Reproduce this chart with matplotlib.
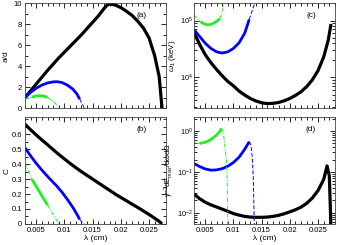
import matplotlib.pyplot as plt
import numpy as np
from matplotlib.ticker import MultipleLocator, LogLocator, NullFormatter

plt.rcParams['font.family'] = ['Liberation Sans', 'DejaVu Sans']
plt.rcParams['font.size'] = 5.5
plt.rcParams['mathtext.fontset'] = 'custom'
plt.rcParams['mathtext.rm'] = 'Liberation Sans'
plt.rcParams['mathtext.it'] = 'Liberation Sans:italic'

# ---- black curve (whole range) ----
lam_k = [0.003, 0.004, 0.005, 0.006, 0.007, 0.008, 0.009, 0.010, 0.011, 0.012, 0.013,
         0.014, 0.015, 0.016, 0.017, 0.0175, 0.018, 0.019, 0.020, 0.021, 0.022, 0.023,
         0.024, 0.025, 0.026, 0.0268, 0.0273]
ad_k = [1.0, 1.65, 2.3, 2.95, 3.6, 4.2, 4.8, 5.35, 5.9, 6.45, 7.0,
        7.6, 8.2, 8.8, 9.5, 9.8, 9.95, 9.85, 9.6, 9.25, 8.85, 8.3,
        7.65, 6.7, 5.0, 3.0, 0.0]
lam_kb = [0.003, 0.004, 0.005, 0.006, 0.007, 0.008, 0.009, 0.010, 0.011, 0.012, 0.013,
          0.014, 0.015, 0.016, 0.017, 0.018, 0.019, 0.020, 0.021, 0.022, 0.023, 0.024,
          0.025, 0.026, 0.0268, 0.0273]
c_k = [0.667, 0.63, 0.595, 0.562, 0.53, 0.497, 0.465, 0.435, 0.405, 0.377, 0.35,
       0.325, 0.30, 0.275, 0.25, 0.225, 0.20, 0.177, 0.155, 0.132, 0.11, 0.087,
       0.063, 0.038, 0.017, 0.0]
w_k = [61700, 38000, 25100, 18200, 13800, 10700, 8500, 7100, 5750, 4900, 4270,
       3850, 3590, 3470, 3510, 3630, 3890, 4270, 4840, 5620, 6920, 9120,
       13200, 22900, 44700, 87100]

lam_kd = [0.003, 0.004, 0.005, 0.006, 0.007, 0.008, 0.009, 0.010, 0.011, 0.012, 0.013,
          0.014, 0.015, 0.016, 0.017, 0.018, 0.019, 0.020, 0.021, 0.022, 0.023, 0.024,
          0.025, 0.026, 0.0266, 0.0270, 0.0273]
e_k = [0.0286, 0.022, 0.018, 0.0155, 0.0138, 0.0122, 0.0108, 0.0095, 0.0087, 0.0081, 0.0078,
       0.0077, 0.0077, 0.0078, 0.0081, 0.0086, 0.0094, 0.0105, 0.0118, 0.0137, 0.017, 0.023,
       0.035, 0.065, 0.14, 0.08, 0.004]

# ---- blue curve: thick part, then dashed tail ----
lam_b = [0.003, 0.004, 0.005, 0.006, 0.007, 0.008, 0.0086, 0.0095, 0.0105, 0.0115, 0.0122, 0.0127]
ad_b = [1.0, 1.5, 1.9, 2.2, 2.4, 2.5, 2.52, 2.45, 2.2, 1.8, 1.35, 0.85]
c_b = [0.51, 0.455, 0.405, 0.36, 0.318, 0.278, 0.255, 0.215, 0.165, 0.11, 0.065, 0.03]
lam_bt = [0.0127, 0.0132, 0.0135]
ad_bt = [0.85, 0.35, 0.0]
c_bt = [0.03, 0.01, 0.0]

lam_bc = [0.003, 0.004, 0.005, 0.006, 0.007, 0.008, 0.009, 0.010, 0.011, 0.012, 0.0128]
w_b = [69000, 52500, 39800, 32400, 28200, 26900, 28200, 32400, 40700, 60300, 105000]
lam_bct = [0.0128, 0.0135, 0.0142]
w_bt = [105000, 170000, 260000]

lam_bd = [0.003, 0.004, 0.005, 0.006, 0.007, 0.008, 0.009, 0.010, 0.011, 0.012, 0.0128]
e_b = [0.16, 0.135, 0.118, 0.11, 0.112, 0.12, 0.138, 0.17, 0.23, 0.36, 0.55]
lam_bdt = [0.0128, 0.0131, 0.0133, 0.0135, 0.0136, 0.0137]
e_bt = [0.55, 0.45, 0.25, 0.08, 0.02, 0.004]

# ---- green curve: dash-dot head, thick middle, dash-dot tail ----
lam_gh = [0.003, 0.0042]
ad_gh = [0.86, 1.05]
c_gh = [0.405, 0.30]
lam_g = [0.0042, 0.0048, 0.0054, 0.006, 0.0066, 0.007]
ad_g = [1.05, 1.13, 1.18, 1.17, 1.1, 1.0]
c_g = [0.30, 0.262, 0.225, 0.187, 0.15, 0.125]
lam_gt = [0.007, 0.0078, 0.0085, 0.009]
ad_gt = [1.0, 0.72, 0.38, 0.0]
c_gt = [0.125, 0.075, 0.031, 0.0]

lam_gch = [0.003, 0.0041]
w_gh = [126000, 96000]
lam_gc = [0.0041, 0.0048, 0.0055, 0.0062, 0.0069, 0.0076]
w_g = [96000, 87000, 84000, 87000, 95000, 108000]
lam_gct = [0.0076, 0.008, 0.0085]
w_gt = [108000, 140000, 250000]

lam_gdh = [0.0033, 0.004]
e_gh = [0.50, 0.50]
lam_gd = [0.004, 0.005, 0.006, 0.007, 0.0076, 0.0079]
e_g = [0.50, 0.53, 0.62, 0.8, 1.0, 1.16]
lam_gdt = [0.0079, 0.0083, 0.0086, 0.0088, 0.0089, 0.009]
e_gt = [1.16, 0.7, 0.3, 0.15, 0.05, 0.004]

BLUE = '#0000ff'
GREEN = '#22ee22'
THICK = 2.0
THIN = 0.7

fig = plt.figure(figsize=(3.38, 2.45), dpi=100)
ax_a = fig.add_axes([0.074, 0.559, 0.417, 0.427])
ax_b = fig.add_axes([0.074, 0.086, 0.417, 0.436])
ax_c = fig.add_axes([0.574, 0.559, 0.417, 0.427])
ax_d = fig.add_axes([0.574, 0.086, 0.417, 0.436])


def draw(ax, lk, yk, lb, yb, lbt, ybt, lgh, ygh, lg, yg, lgt, ygt):
    ax.plot(lk, yk, color='black', lw=THICK + 0.3, solid_capstyle='butt')
    ax.plot(lb, yb, color=BLUE, lw=THICK, solid_capstyle='butt')
    ax.plot(lbt, ybt, color=BLUE, lw=THIN, ls=(0, (4, 2)))
    ax.plot(lgh, ygh, color=GREEN, lw=THIN, ls=(0, (4, 1.5, 1, 1.5)))
    ax.plot(lg, yg, color=GREEN, lw=THICK, solid_capstyle='butt')
    ax.plot(lgt, ygt, color=GREEN, lw=THIN, ls=(0, (4, 1.5, 1, 1.5)))


draw(ax_a, lam_k, ad_k, lam_b, ad_b, lam_bt, ad_bt, lam_gh, ad_gh, lam_g, ad_g, lam_gt, ad_gt)
draw(ax_b, lam_kb, c_k, lam_b, c_b, lam_bt, c_bt, lam_gh, c_gh, lam_g, c_g, lam_gt, c_gt)
draw(ax_c, lam_kb, w_k, lam_bc, w_b, lam_bct, w_bt, lam_gch, w_gh, lam_gc, w_g, lam_gct, w_gt)
draw(ax_d, lam_kd, e_k, lam_bd, e_b, lam_bdt, e_bt, lam_gdh, e_gh, lam_gd, e_g, lam_gdt, e_gt)

ax_a.set_ylim(0, 10)
ax_a.yaxis.set_major_locator(MultipleLocator(2))
ax_a.yaxis.set_minor_locator(MultipleLocator(1))
ax_b.set_ylim(0, 0.715)
ax_b.yaxis.set_minor_locator(MultipleLocator(0.05))
ax_b.set_yticks([0, 0.1, 0.2, 0.3, 0.4, 0.5, 0.6])
ax_b.set_yticklabels(['0', '0.1', '0.2', '0.3', '0.4', '0.5', '0.6'])

ax_c.set_yscale('log')
ax_c.set_ylim(2900, 2.0e5)
ax_d.set_yscale('log')
ax_d.set_ylim(0.0053, 2.2)
for ax in (ax_c, ax_d):
    ax.yaxis.set_major_locator(LogLocator(base=10))
    ax.yaxis.set_minor_locator(LogLocator(base=10, subs=np.arange(2, 10)))
    ax.yaxis.set_minor_formatter(NullFormatter())

for ax in (ax_a, ax_b, ax_c, ax_d):
    ax.set_xlim(0.003, 0.028)
    ax.xaxis.set_major_locator(MultipleLocator(0.005))
    ax.xaxis.set_minor_locator(MultipleLocator(0.001))
    ax.tick_params(which='both', direction='in', top=True, right=True, pad=2, labelsize=5.5)
    ax.tick_params(which='major', length=3.5, width=0.6)
    ax.tick_params(which='minor', length=2, width=0.6)
    for s in ax.spines.values():
        s.set_linewidth(0.6)
        s.set_color('#444444')

for ax in (ax_a, ax_c):
    ax.tick_params(labelbottom=False)
for ax in (ax_c, ax_d):
    ax.tick_params(axis='y', which='major', pad=1.2, labelsize=5.2)
for ax in (ax_b, ax_d):
    ax.set_xticks([0.005, 0.01, 0.015, 0.02, 0.025])
    ax.set_xticklabels(['0.005', '0.01', '0.015', '0.02', '0.025'])
    ax.set_xlabel('λ (cm)', fontsize=6, labelpad=1)

ax_a.set_ylabel('a/d', fontsize=6)
ax_b.set_ylabel('C', fontsize=6)
ax_c.set_ylabel(r'$\omega_1$ (keV)', fontsize=5.8)
ax_d.set_ylabel(r'$\gamma^{-2}$dE$_{max}$/d$\omega$d$\Omega$', fontsize=5.5)
ax_a.yaxis.set_label_coords(-0.11, 0.5)
ax_b.yaxis.set_label_coords(-0.105, 0.5)
ax_c.yaxis.set_label_coords(-0.115, 0.5)
ax_d.yaxis.set_label_coords(-0.125, 0.5)

for ax, lab in ((ax_a, '(a)'), (ax_b, '(b)'), (ax_c, '(c)'), (ax_d, '(d)')):
    ax.text(0.83, 0.88, lab, transform=ax.transAxes, fontsize=6, ha='center', va='center')

fig.savefig('out.png', dpi=100)
